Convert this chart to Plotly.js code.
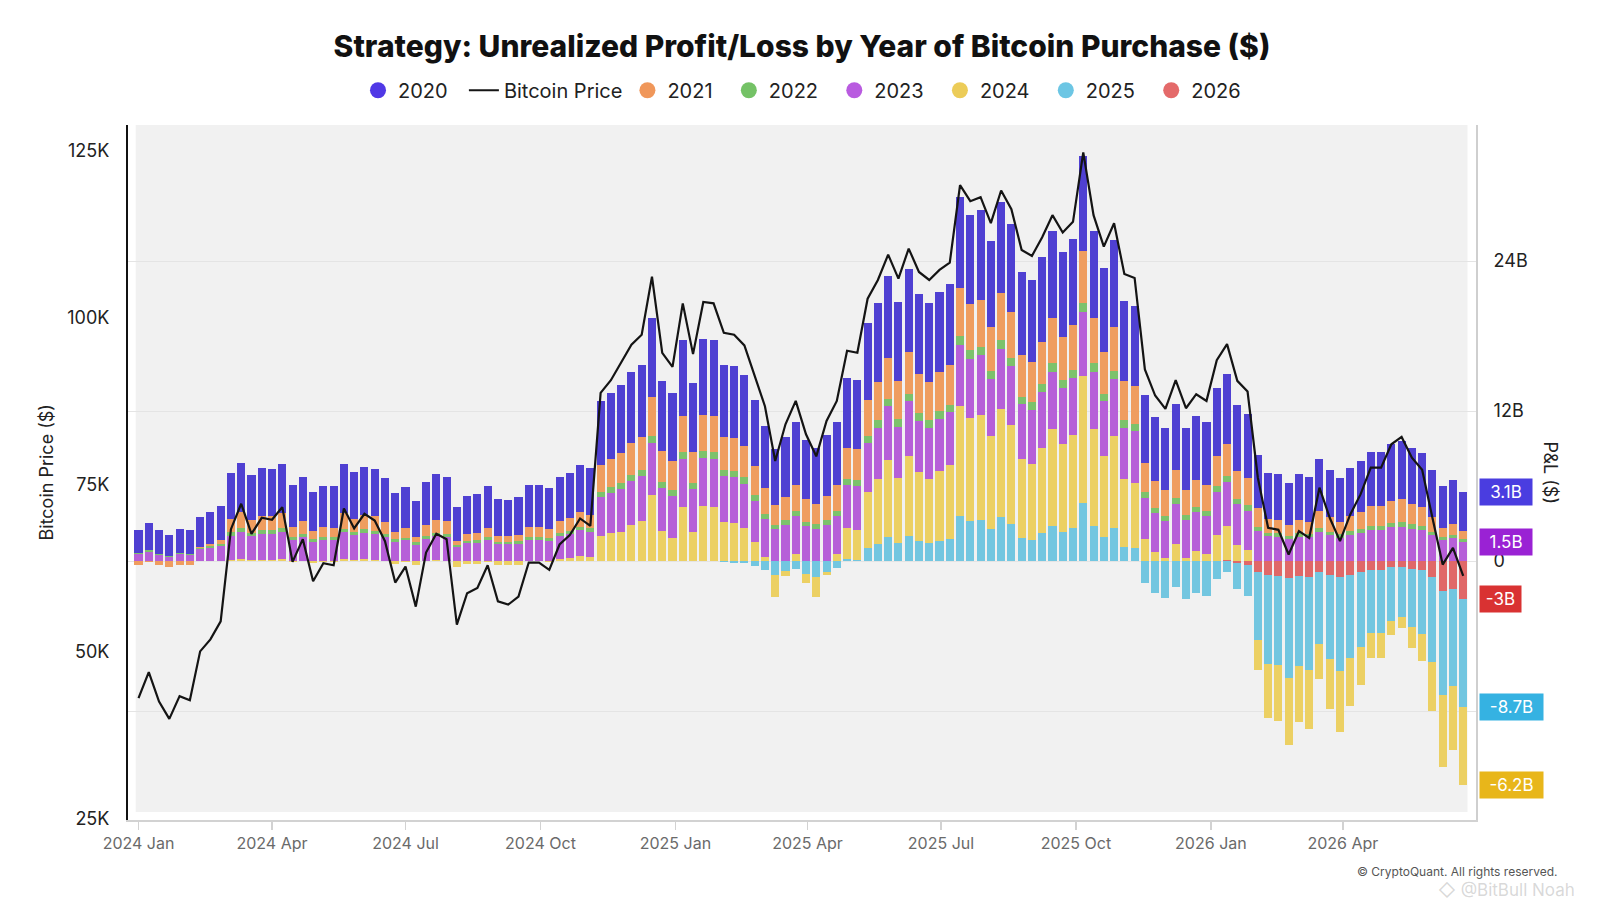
<!DOCTYPE html>
<html>
<head>
<meta charset="utf-8">
<script src="https://cdn.plot.ly/plotly-3.0.1.min.js"></script>
<style>html,body{margin:0;padding:0;background:#fff;}#chart{width:1600px;height:900px;}</style>
</head>
<body>
<div id="chart"></div>
<script>
// Weekly sample dates (Mondays)
const weeks = [
'2024-01-01','2024-01-08','2024-01-15','2024-01-22','2024-01-29','2024-02-05','2024-02-12','2024-02-19','2024-02-26',
'2024-03-04','2024-03-11','2024-03-18','2024-03-25','2024-04-01','2024-04-08','2024-04-15','2024-04-22','2024-04-29',
'2024-05-06','2024-05-13','2024-05-20','2024-05-27','2024-06-03','2024-06-10','2024-06-17','2024-06-24',
'2024-07-01','2024-07-08','2024-07-15','2024-07-22','2024-07-29','2024-08-05','2024-08-12','2024-08-19','2024-08-26',
'2024-09-02','2024-09-09','2024-09-16','2024-09-23','2024-09-30','2024-10-07','2024-10-14','2024-10-21','2024-10-28',
'2024-11-04','2024-11-11','2024-11-18','2024-11-25','2024-12-02','2024-12-09','2024-12-16','2024-12-23','2024-12-30',
'2025-01-06','2025-01-13','2025-01-20','2025-01-27','2025-02-03','2025-02-10','2025-02-17','2025-02-24',
'2025-03-03','2025-03-10','2025-03-17','2025-03-24','2025-03-31','2025-04-07','2025-04-14','2025-04-21','2025-04-28',
'2025-05-05','2025-05-12','2025-05-19','2025-05-26','2025-06-02','2025-06-09','2025-06-16','2025-06-23','2025-06-30',
'2025-07-07','2025-07-14','2025-07-21','2025-07-28','2025-08-04','2025-08-11','2025-08-18','2025-08-25',
'2025-09-01','2025-09-08','2025-09-15','2025-09-22','2025-09-29','2025-10-06','2025-10-13','2025-10-20','2025-10-27',
'2025-11-03','2025-11-10','2025-11-17','2025-11-24','2025-12-01','2025-12-08','2025-12-15','2025-12-22','2025-12-29',
'2026-01-05','2026-01-12','2026-01-19','2026-01-26','2026-02-02','2026-02-09','2026-02-16','2026-02-23',
'2026-03-02','2026-03-09','2026-03-16','2026-03-23','2026-03-30','2026-04-06','2026-04-13','2026-04-20','2026-04-27',
'2026-05-04','2026-05-11','2026-05-18','2026-05-25','2026-06-01','2026-06-08','2026-06-15','2026-06-22'];

// Bitcoin price, thousands of USD
const btcPrice = [
43.0,46.9,42.5,39.9,43.3,42.7,50.0,51.8,54.5,68.3,72.1,67.6,70.0,69.7,71.6,63.4,66.8,60.5,63.2,62.9,71.4,68.4,70.6,69.6,66.5,60.3,
62.7,56.7,64.8,67.6,66.8,54.0,58.7,59.5,62.9,57.5,57.0,58.2,63.3,63.3,62.2,66.0,67.4,69.9,68.8,88.7,90.6,93.2,95.9,97.4,106.1,94.7,92.6,
102.1,94.5,102.3,102.1,97.7,97.4,95.8,91.4,86.7,78.5,84.0,87.5,82.5,79.2,84.5,87.5,95.0,94.7,102.8,105.6,109.4,105.8,110.3,106.8,105.6,107.1,
108.2,119.8,117.4,118.0,114.1,119.0,116.2,110.1,109.2,112.0,115.3,112.7,114.3,124.7,115.3,110.6,114.1,106.5,105.9,92.2,88.3,86.3,90.6,86.4,88.5,87.5,
93.6,96.0,90.5,88.9,76.0,68.5,68.2,64.5,68.0,67.0,74.5,70.0,66.5,70.5,73.5,77.5,77.5,81.0,82.1,79.0,77.2,70.0,63.0,65.5,61.3];

// Unrealized P&L by purchase year, billions of USD
const pnl2020 = [
1.91,2.18,1.87,1.69,1.93,1.88,2.40,2.53,2.72,3.69,3.96,3.64,3.81,3.79,3.92,3.34,3.58,3.14,3.33,3.31,3.91,3.70,3.85,3.78,3.56,3.12,
3.29,2.87,3.44,3.64,3.58,2.68,3.01,3.07,3.31,2.93,2.89,2.98,3.34,3.34,3.26,3.53,3.62,3.80,3.72,5.13,5.26,5.44,5.63,5.74,6.35,5.55,5.40,
6.07,5.53,6.08,6.07,5.76,5.74,5.63,5.32,4.98,4.41,4.79,5.04,4.69,4.46,4.83,5.04,5.57,5.55,6.12,6.32,6.58,6.33,6.65,6.40,6.32,6.42,
6.50,7.32,7.15,7.19,6.92,7.26,7.06,6.63,6.57,6.77,7.00,6.82,6.93,7.66,7.00,6.67,6.92,6.38,6.34,5.37,5.10,4.96,5.26,4.96,5.11,5.04,
5.47,5.64,5.25,5.14,4.23,3.70,3.68,3.42,3.67,3.60,4.13,3.81,3.56,3.84,4.05,4.34,4.34,4.58,4.66,4.44,4.32,3.81,3.31,3.49,3.12];
const pnl2021 = [
-0.31,-0.10,-0.33,-0.47,-0.29,-0.32,0.07,0.17,0.31,1.06,1.26,1.02,1.15,1.13,1.23,0.79,0.98,0.64,0.78,0.77,1.22,1.06,1.18,1.13,0.96,0.63,
0.75,0.43,0.87,1.02,0.98,0.29,0.54,0.58,0.77,0.47,0.45,0.51,0.79,0.79,0.73,0.93,1.01,1.14,1.08,2.16,2.26,2.40,2.55,2.63,3.10,2.48,2.37,
2.88,2.47,2.89,2.88,2.64,2.63,2.54,2.30,2.05,1.61,1.90,2.09,1.82,1.64,1.93,2.09,2.50,2.48,2.92,3.07,3.27,3.08,3.32,3.13,3.07,3.15,
3.21,3.83,3.70,3.74,3.53,3.79,3.64,3.31,3.26,3.41,3.59,3.45,3.54,4.10,3.59,3.34,3.53,3.12,3.08,2.35,2.14,2.03,2.26,2.03,2.15,2.09,
2.42,2.55,2.25,2.17,1.47,1.07,1.05,0.85,1.04,0.99,1.39,1.15,0.96,1.18,1.34,1.55,1.55,1.74,1.80,1.63,1.54,1.15,0.77,0.91,0.68];
const pnl2022 = [
0.07,0.10,0.07,0.05,0.07,0.07,0.13,0.14,0.17,0.28,0.31,0.27,0.29,0.29,0.30,0.24,0.26,0.21,0.24,0.23,0.30,0.28,0.30,0.29,0.26,0.21,
0.23,0.18,0.25,0.27,0.26,0.16,0.20,0.21,0.23,0.19,0.19,0.20,0.24,0.24,0.23,0.26,0.27,0.29,0.28,0.44,0.46,0.48,0.50,0.51,0.58,0.49,0.47,
0.55,0.49,0.55,0.55,0.52,0.51,0.50,0.46,0.43,0.36,0.40,0.43,0.39,0.37,0.41,0.43,0.49,0.49,0.56,0.58,0.61,0.58,0.62,0.59,0.58,0.59,
0.60,0.69,0.68,0.68,0.65,0.69,0.67,0.62,0.61,0.63,0.66,0.64,0.65,0.73,0.66,0.62,0.65,0.59,0.58,0.47,0.44,0.42,0.46,0.42,0.44,0.43,
0.48,0.50,0.46,0.44,0.34,0.28,0.28,0.25,0.28,0.27,0.33,0.29,0.26,0.30,0.32,0.35,0.35,0.38,0.39,0.36,0.35,0.29,0.23,0.25,0.22];
const pnl2023 = [
0.54,0.76,0.51,0.36,0.55,0.52,0.93,1.04,1.19,1.97,2.19,1.93,2.07,2.05,2.16,1.69,1.89,1.53,1.68,1.66,2.15,1.98,2.10,2.04,1.87,1.52,
1.65,1.31,1.77,1.93,1.89,1.16,1.43,1.47,1.66,1.36,1.33,1.40,1.69,1.69,1.62,1.84,1.92,2.06,2.00,3.13,3.23,3.38,3.53,3.62,4.11,3.47,3.35,
3.89,3.45,3.90,3.89,3.64,3.62,3.53,3.28,3.01,2.55,2.86,3.06,2.77,2.59,2.89,3.06,3.48,3.47,3.92,4.08,4.30,4.09,4.35,4.15,4.08,4.17,
4.23,4.89,4.75,4.79,4.56,4.84,4.68,4.34,4.29,4.45,4.63,4.49,4.58,5.17,4.63,4.37,4.56,4.13,4.10,3.32,3.10,2.99,3.23,3.00,3.11,3.06,
3.40,3.54,3.23,3.14,2.41,1.98,1.96,1.76,1.95,1.90,2.32,2.07,1.87,2.09,2.26,2.49,2.49,2.69,2.75,2.58,2.47,2.07,1.67,1.81,1.52];
const pnl2024 = [
null,null,null,null,0.00,0.00,0.01,0.01,0.02,0.07,0.13,0.06,0.12,0.11,0.16,-0.05,0.04,-0.12,-0.06,-0.06,0.15,0.08,0.13,0.11,0.03,-0.20,
-0.11,-0.34,-0.03,0.07,0.04,-0.44,-0.26,-0.23,-0.10,-0.30,-0.32,-0.31,-0.02,-0.02,-0.09,0.15,0.24,0.40,0.33,1.97,2.24,2.36,2.89,3.17,5.31,2.40,1.85,
4.29,2.33,4.34,4.29,3.16,3.08,2.67,1.54,0.33,-1.78,-0.37,0.53,-0.75,-1.60,-0.24,0.53,2.46,2.39,4.47,5.19,6.17,5.24,6.40,5.50,5.19,5.58,
5.86,8.85,8.23,8.38,7.38,8.64,7.92,6.35,6.12,6.84,7.69,7.02,7.43,10.11,7.69,6.48,7.38,5.42,5.27,1.74,0.74,0.22,1.33,0.25,0.79,0.53,
2.10,2.72,1.30,0.89,-2.43,-4.36,-4.44,-5.39,-4.49,-4.74,-2.81,-3.97,-4.87,-3.84,-3.07,-2.04,-2.04,-1.14,-0.86,-1.66,-2.12,-3.97,-5.77,-5.13,-6.21];
const pnl2025 = [
null,null,null,null,null,null,null,null,null,null,null,null,null,null,null,null,null,null,null,null,null,null,null,null,null,null,
null,null,null,null,null,null,null,null,null,null,null,null,null,null,null,null,null,null,null,null,null,null,null,null,null,null,null,
0.01,0.00,0.04,0.00,-0.11,-0.12,-0.17,-0.43,-0.68,-1.11,-0.82,-0.62,-1.02,-1.29,-0.85,-0.57,0.15,0.12,1.04,1.40,1.90,1.42,2.03,1.59,1.41,1.63,
1.80,3.58,3.20,3.31,2.60,3.50,2.98,1.85,1.67,2.21,2.84,2.34,2.65,4.66,2.84,1.93,2.61,1.13,1.01,-1.75,-2.54,-2.95,-2.07,-3.03,-2.56,-2.79,
-1.41,-0.86,-2.11,-2.47,-5.39,-7.08,-7.15,-7.99,-7.20,-7.42,-5.73,-6.74,-7.53,-6.63,-5.95,-5.05,-5.05,-4.26,-4.01,-4.71,-5.12,-6.74,-8.33,-7.76,-8.71];
const pnl2026 = [
null,null,null,null,null,null,null,null,null,null,null,null,null,null,null,null,null,null,null,null,null,null,null,null,null,null,
null,null,null,null,null,null,null,null,null,null,null,null,null,null,null,null,null,null,null,null,null,null,null,null,null,null,null,
null,null,null,null,null,null,null,null,null,null,null,null,null,null,null,null,null,null,null,null,null,null,null,null,null,null,
null,null,null,null,null,null,null,null,null,null,null,null,null,null,null,null,null,null,null,null,null,null,null,null,null,null,
0.00,0.05,-0.15,-0.30,-0.90,-1.15,-1.20,-1.35,-1.20,-1.30,-0.90,-1.10,-1.30,-1.10,-0.90,-0.70,-0.70,-0.50,-0.45,-0.60,-0.75,-1.30,-2.40,-2.20,-3.00];

// Axis tick labels
const priceTicks = [25, 50, 75, 100, 125];
const priceTickText = ['25K', '50K', '75K', '100K', '125K'];
const pnlTicks = [-12, 0, 12, 24];
const pnlTickText = ['', '0', '12B', '24B'];

// Series: name, values, colours (stack order: nearest zero first)
const series = [
  {name: '2026', y: pnl2026, color: '#e06868', legend: '#e46a6a', label: '#d93232', rank: 8, tag: true, pad: ''},
  {name: '2025', y: pnl2025, color: '#72c6e0', legend: '#6cc6e4', label: '#35b2e2', rank: 7, tag: true, pad: '\u00a0\u00a0'},
  {name: '2024', y: pnl2024, color: '#ecd063', legend: '#eccc58', label: '#e8b61a', rank: 6, tag: true, pad: '\u00a0\u00a0'},
  {name: '2023', y: pnl2023, color: '#b65fd8', legend: '#b95be0', label: '#9a22d4', rank: 5, tag: true, pad: '\u00a0\u00a0'},
  {name: '2022', y: pnl2022, color: '#7cc26c', legend: '#74c266', label: '#5aa84a', rank: 4, tag: false, pad: '\u00a0\u00a0'},
  {name: '2021', y: pnl2021, color: '#ef9d5f', legend: '#f0975a', label: '#e8853a', rank: 3, tag: false, pad: '\u00a0\u00a0'},
  {name: '2020', y: pnl2020, color: '#4f40d2', legend: '#5038e6', label: '#4a3de0', rank: 1, tag: true, pad: '\u00a0\u00a0'}
];

const DAY = 86400000;
const traces = [];
series.forEach(s => {
  traces.push({
    type: 'bar', x: weeks, y: s.y, yaxis: 'y', name: s.name,
    marker: {color: s.color, line: {width: 0}},
    width: 5.5 * DAY, showlegend: false, hoverinfo: 'x+y+name'
  });
});
// legend entries with round markers
series.forEach(s => {
  traces.push({
    type: 'scatter', mode: 'markers', x: [null], y: [null], yaxis: 'y', name: s.name + s.pad,
    marker: {color: s.legend, size: 20, symbol: 'circle'}, legendrank: s.rank, showlegend: true, hoverinfo: 'skip'
  });
});
traces.push({
  type: 'scatter', mode: 'lines', x: weeks, y: btcPrice, yaxis: 'y2', name: 'Bitcoin Price',
  line: {color: '#141414', width: 2.2}, legendrank: 2, showlegend: true
});

// end-of-series labels at stacked positions
const last = weeks.length - 1;
let posSum = 0, negSum = 0;
const annotations = [];
series.forEach(s => {
  const v = s.y[last];
  let pos;
  if (v >= 0) { posSum += v; pos = posSum; } else { negSum += v; pos = negSum; }
  if (!s.tag) return;
  const r = Math.round(v * 10) / 10;
  const txt = (Number.isInteger(r) ? r.toFixed(0) : r.toFixed(1)) + 'B';
  annotations.push({
    xref: 'paper', x: 1, xanchor: 'left', xshift: 3, yref: 'y', y: pos, yanchor: 'middle',
    text: txt, showarrow: false, bgcolor: s.label, borderpad: 3, width: txt.length * 11 + 2,
    font: {size: 17, color: '#ffffff', family: 'Inter, sans-serif'}
  });
});
annotations.push({
  xref: 'paper', yref: 'paper', x: -0.0608, y: 0.5, text: 'Bitcoin Price ($)', textangle: -90,
  showarrow: false, font: {size: 18, color: '#222', family: 'Inter, sans-serif'}, xanchor: 'center', yanchor: 'middle'
});
annotations.push({
  xref: 'paper', yref: 'paper', x: 1.0556, y: 0.5, text: 'P&L ($)', textangle: 90,
  showarrow: false, font: {size: 18, color: '#222', family: 'Inter, sans-serif'}, xanchor: 'center', yanchor: 'middle'
});
annotations.push({
  xref: 'paper', yref: 'paper', x: 1.0616, y: -0.0748, xanchor: 'right', yanchor: 'middle',
  text: '© CryptoQuant. All rights reserved.', showarrow: false,
  font: {size: 12, color: '#555', family: 'Inter, sans-serif'}
});
annotations.push({
  xref: 'paper', yref: 'paper', x: 1.075, y: -0.1, xanchor: 'right', yanchor: 'middle',
  text: '◇ @BitBull Noah', showarrow: false,
  font: {size: 17, color: 'rgba(170,170,170,0.45)', family: 'Inter, sans-serif'}
});

const layout = {
  width: 1600, height: 900,
  margin: {l: 128, r: 124, t: 125, b: 80},
  paper_bgcolor: '#ffffff', plot_bgcolor: '#ffffff',
  barmode: 'relative', bargap: 0,
  font: {family: 'Inter, Roboto, sans-serif', color: '#222'},
  title: {
    text: 'Strategy: Unrealized Profit/Loss by Year of Bitcoin Purchase ($)',
    font: {size: 30, color: '#111', family: 'Inter, sans-serif', weight: 800},
    x: 0.5, xanchor: 'center', xref: 'paper', y: 1 - 46 / 900, yanchor: 'middle', yref: 'container'
  },
  legend: {
    orientation: 'h', x: 0.5, xanchor: 'center', y: 1.05, yanchor: 'middle',
    font: {size: 20, color: '#222'}, traceorder: 'normal', itemwidth: 30, bgcolor: 'rgba(0,0,0,0)'
  },
  xaxis: {
    type: 'date', range: ['2023-12-24 20:00', '2026-06-30 17:00'],
    tickformat: '%Y %b', dtick: 'M3', tick0: '2024-01-01',
    showgrid: false, zeroline: false, showline: true, linecolor: '#d2d2d2', linewidth: 2,
    ticks: 'outside', ticklen: 8, tickcolor: '#d2d2d2', tickwidth: 1.5,
    tickfont: {size: 16, color: '#6a6a6a'}
  },
  yaxis: {
    side: 'right', range: [-20.72, 34.88], tickvals: pnlTicks, ticktext: pnlTickText,
    showgrid: true, gridcolor: '#e4e4e4', gridwidth: 1, zeroline: false,
    showline: true, linecolor: '#cfcfcf', linewidth: 2,
    ticks: 'outside', ticklen: 12, tickcolor: 'rgba(0,0,0,0)', tickfont: {size: 18, color: '#222'}
  },
  yaxis2: {
    overlaying: 'y', side: 'left', range: [24.76, 128.8], tickvals: priceTicks, ticktext: priceTickText,
    showgrid: false, zeroline: false, showline: true, linecolor: '#111', linewidth: 2,
    ticks: 'outside', ticklen: 13, tickcolor: 'rgba(0,0,0,0)', tickfont: {size: 18, color: '#222'}
  },
  shapes: [{
    type: 'rect', xref: 'paper', yref: 'paper', x0: 0.0057, x1: 0.9937, y0: 0.0115, y1: 1,
    fillcolor: '#f1f1f1', line: {width: 0}, layer: 'below'
  }],
  annotations: annotations,
  showlegend: true
};

Plotly.newPlot('chart', traces, layout, {displayModeBar: false, staticPlot: true});
</script>
</body>
</html>
